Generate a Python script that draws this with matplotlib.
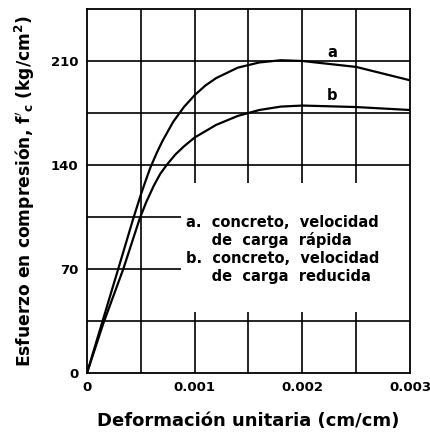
import numpy as np
import matplotlib
matplotlib.use('Agg')
import matplotlib.pyplot as plt
from matplotlib.patches import Rectangle

# Curve a: fast loading rate
strain_a = [0, 0.00012, 0.00029, 0.00043, 0.0005, 0.00055, 0.00059, 0.00065, 0.0007,
            0.0008, 0.0009, 0.001, 0.0011, 0.0012, 0.0014, 0.0016, 0.0018, 0.002,
            0.0025, 0.003]
stress_a = [0, 29, 70, 104, 120, 130.5, 138.5, 148.5, 156,
            169, 179, 187, 193.5, 198.5, 205.5, 209, 210.5, 210,
            206, 197]

# Curve b: slow loading rate
strain_b = [0, 0.00015, 0.000337, 0.00049, 0.00055, 0.00062, 0.00068, 0.00074,
            0.00082, 0.0009, 0.001, 0.0012, 0.0014, 0.0016, 0.0018, 0.002,
            0.0025, 0.003]
stress_b = [0, 33, 70, 104, 115, 126, 134, 140,
            147, 152.5, 158.5, 167, 173, 177, 179.3, 180,
            179, 177]

xticks = [0, 0.001, 0.002, 0.003]
xticklabels = ['0', '0.001', '0.002', '0.003']
yticks = [0, 70, 140, 210]
legend_lines = ['a.  concreto,  velocidad',
                '     de  carga  rápida',
                'b.  concreto,  velocidad',
                '     de  carga  reducida']

fig = plt.figure(figsize=(4.3, 4.38), dpi=100)
ax = fig.add_axes([0.2023, 0.1484, 0.9535 - 0.2023, 0.9795 - 0.1484])

ax.set_xlim(0, 0.003)
ax.set_ylim(0, 245)

# Grid
for gx in np.arange(0.0005, 0.003, 0.0005):
    ax.axvline(gx, color='black', lw=1.2, zorder=1)
for gy in np.arange(35, 245, 35):
    ax.axhline(gy, color='black', lw=1.2, zorder=1)

# white area behind the notes
ax.add_patch(Rectangle((0.00087, 41), 0.00213, 87, facecolor='white',
                       edgecolor='none', zorder=2))

ax.plot(strain_a, stress_a, color='black', lw=1.6, zorder=3)
ax.plot(strain_b, stress_b, color='black', lw=1.6, zorder=3)

ax.text(0.00228, 216, 'a', fontsize=10.5, fontweight='bold', ha='center', va='center')
ax.text(0.00228, 187, 'b', fontsize=10.5, fontweight='bold', ha='center', va='center')

for i, line in enumerate(legend_lines):
    ax.text(0.00092, 101.5 - i * 12.2, line, fontsize=10.5, fontweight='bold',
            ha='left', va='center', zorder=4)

for s in ax.spines.values():
    s.set_linewidth(1.3)
    s.set_zorder(5)

ax.set_xticks(xticks)
ax.set_xticklabels(xticklabels, fontsize=9.5, fontweight='bold')
ax.set_yticks(yticks)
ax.set_yticklabels([str(v) for v in yticks], fontsize=9.5, fontweight='bold')
ax.tick_params(length=0, pad=6)

ax.set_xlabel('Deformación unitaria (cm/cm)', fontsize=13, fontweight='bold', labelpad=13)
ax.set_ylabel("Esfuerzo en compresión, $\\mathbf{f'_c}$ (kg/cm$^\\mathbf{2}$)",
              fontsize=12.3, fontweight='bold', labelpad=10)

fig.savefig('out.png', dpi=100)
